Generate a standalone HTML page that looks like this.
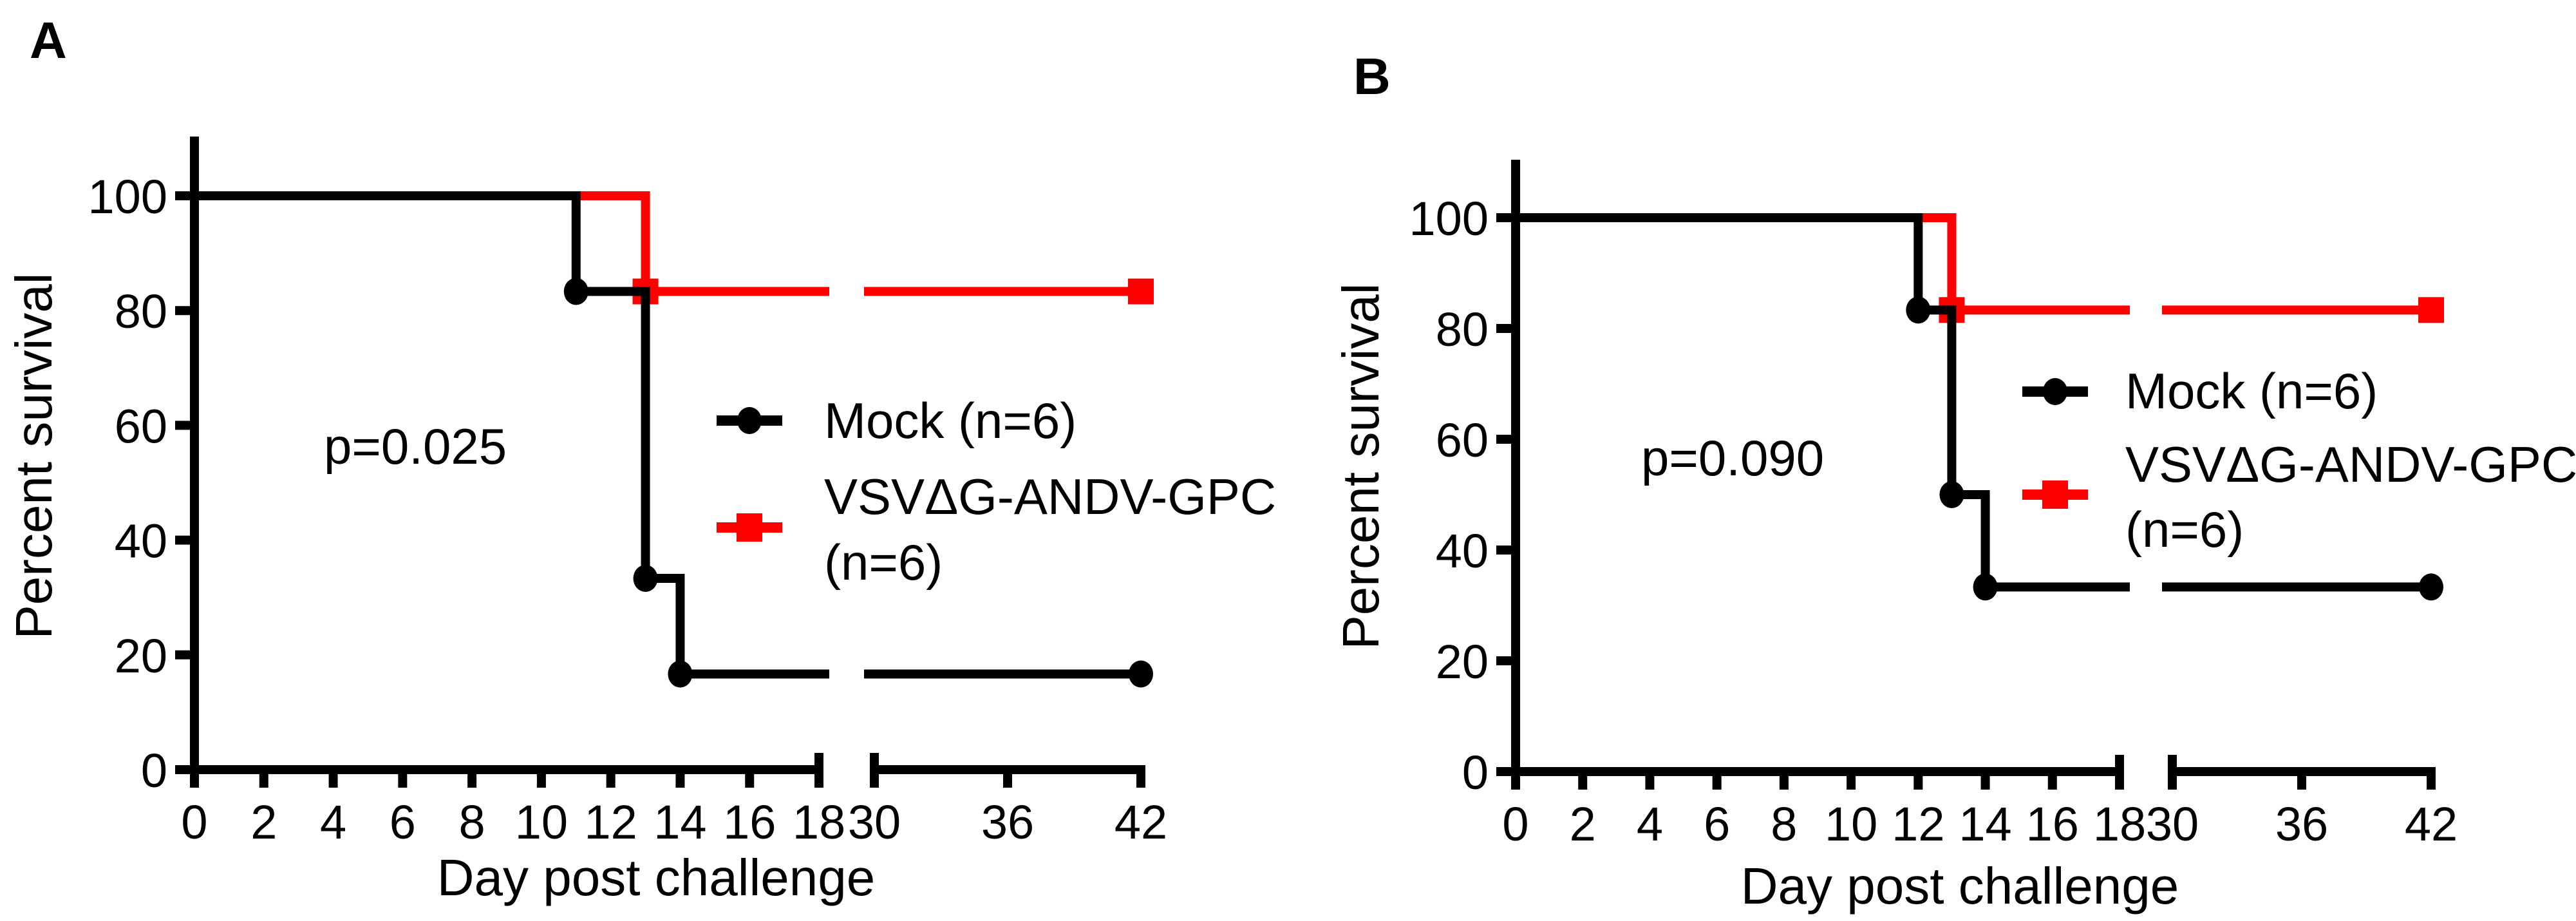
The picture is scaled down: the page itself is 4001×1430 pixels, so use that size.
<!DOCTYPE html>
<html><head><meta charset="utf-8"><style>
html,body{margin:0;padding:0;background:#fff}
svg{display:block}
text{font-family:"Liberation Sans",Arial,sans-serif;fill:#000}
</style></head><body>
<svg id="fig" width="4001" height="1430" viewBox="0 0 4001 1430" xmlns="http://www.w3.org/2000/svg"></svg>
<script>
// ---- data ----
const xTicksSeg1 = [0,2,4,6,8,10,12,14,16,18];
const xTicksSeg2 = [30,36,42];
const yTicks = [0,20,40,60,80,100];
const mockTimesA = [0,11,13,14,42];
const mockSurvA = [100,83.33,33.33,16.67,16.67];
const vaccTimesA = [0,13,42];
const vaccSurvA = [100,83.33,83.33];
const mockMarkersA = [11,13,14,42];
const vaccMarkersA = [13,42];
const mockTimesB = [0,12,13,14,42];
const mockSurvB = [100,83.33,50,33.33,33.33];
const vaccTimesB = [0,13,42];
const vaccSurvB = [100,83.33,83.33];
const mockMarkersB = [12,13,14,42];
const vaccMarkersB = [13,42];

const NS = "http://www.w3.org/2000/svg";
const svg = document.getElementById('fig');
function mk(tag, attrs, parent){ const e=document.createElementNS(NS,tag); for(const k in attrs) e.setAttribute(k,attrs[k]); (parent||svg).appendChild(e); return e; }

const panels = [
 {id:'a', letter:'A', lx:46, ly:90, x0:302, x18:1272, x30:1358, x42:1772, y0:1195, y100:304, ytop:212,
  mockT:mockTimesA, mockS:mockSurvA, vT:vaccTimesA, vS:vaccSurvA, mM:mockMarkersA, vM:vaccMarkersA,
  p:'p=0.025', px:503, py:720, legX:1113, legTextX:1280, legMockY:653, legVaccY:819, mockBase:680, vBase1:798, vBase2:900,
  ytx:52, yty:708, xtx:1019, xty:1390},
 {id:'b', letter:'B', lx:2102, ly:146, x0:2354, x18:3292, x30:3374, x42:3776, y0:1198, y100:338, ytop:248,
  mockT:mockTimesB, mockS:mockSurvB, vT:vaccTimesB, vS:vaccSurvB, mM:mockMarkersB, vM:vaccMarkersB,
  p:'p=0.090', px:2549, py:738, legX:3141, legTextX:3301, legMockY:608, legVaccY:768, mockBase:634, vBase1:748, vBase2:849,
  ytx:2113, yty:724, xtx:3044, xty:1403}
];

panels.forEach(P=>{
  const g = mk('g',{});
  
  
  const X = d => d<=18 ? P.x0 + d*(P.x18-P.x0)/18 : P.x30 + (d-30)*(P.x42-P.x30)/12;
  const Y = v => P.y0 - v*(P.y0-P.y100)/100;

  const lt = mk('text',{x:P.lx,y:P.ly,'font-size':80,'font-weight':'bold'},g); lt.textContent=P.letter;
   

  const defs = mk('defs',{},g);
  const c1 = mk('clipPath',{id:'c1'+P.id},defs); mk('rect',{x:0,y:0,width:X(18)+16,height:1430},c1);
  const c2 = mk('clipPath',{id:'c2'+P.id},defs); mk('rect',{x:X(30)-16,y:0,width:1000,height:1430},c2);

  const ax = mk('g',{stroke:'#000','stroke-width':14,fill:'none'},g);
   
  mk('line',{x1:P.x0,y1:P.ytop,x2:P.x0,y2:P.y0+7},ax);
  mk('line',{x1:P.x0-7,y1:P.y0,x2:X(18)+7,y2:P.y0},ax);
  mk('line',{x1:X(30)-7,y1:P.y0,x2:X(42)+7,y2:P.y0},ax);
  mk('line',{x1:X(18),y1:P.y0-26,x2:X(18),y2:P.y0+28},ax);
  mk('line',{x1:X(30),y1:P.y0-26,x2:X(30),y2:P.y0+28},ax);
  yTicks.forEach(v=>{
    mk('line',{x1:P.x0-30,y1:Y(v),x2:P.x0,y2:Y(v)},ax);
    const t=mk('text',{x:P.x0-42,y:Y(v)+27,'font-size':74,'text-anchor':'end',stroke:'none'},g); t.textContent=v;
     
  });
  xTicksSeg1.concat(xTicksSeg2).forEach(d=>{
    mk('line',{x1:X(d),y1:P.y0,x2:X(d),y2:P.y0+28},ax);
    const t=mk('text',{x:X(d),y:P.y0+107,'font-size':74,'text-anchor':'middle'},g); t.textContent=d;
     
  });

  const yt=mk('text',{x:0,y:0,'font-size':80,'text-anchor':'middle',transform:`translate(${P.ytx+28},${P.yty}) rotate(-90)`},g);
  yt.textContent='Percent survival';  
  const xt=mk('text',{x:P.xtx,y:P.xty,'font-size':80,'text-anchor':'middle'},g);
  xt.textContent='Day post challenge';  

  function stepPath(T,S){
    let d=`M${X(T[0])},${Y(S[0])}`;
    for(let i=1;i<T.length;i++){ d+=` H${X(T[i])} V${Y(S[i])}`; }
    return d;
  }
  function series(T,S,color,name){
    const sg=mk('g',{fill:'none',stroke:color,'stroke-width':14},g);
     
    const d=stepPath(T,S);
    mk('path',{d:d,'clip-path':`url(#c1${P.id})`},sg);
    mk('path',{d:d,'clip-path':`url(#c2${P.id})`},sg);
    return sg;
  }
  const survAt=(T,S,t)=>{let v=S[0];for(let i=0;i<T.length;i++) if(T[i]<=t) v=S[i];return v;};

  series(P.vT,P.vS,'#ff0000','vaccine-line-'+P.id);
  P.vM.forEach(t=>{
    const r=mk('rect',{x:X(t)-20,y:Y(survAt(P.vT,P.vS,t))-20,width:40,height:40,fill:'#ff0000'},g);
     
  });
  series(P.mockT,P.mockS,'#000','mock-line-'+P.id);
  P.mM.forEach(t=>{
    const c=mk('ellipse',{cx:X(t),cy:Y(survAt(P.mockT,P.mockS,t)),rx:19,ry:21,fill:'#000'},g);
     
  });

  const pt=mk('text',{x:P.px,y:P.py,'font-size':78},g); pt.textContent=P.p;
   

  const lg=mk('g',{},g);  
  const e1=mk('g',{},lg);  
  mk('line',{x1:P.legX,y1:P.legMockY,x2:P.legX+102,y2:P.legMockY,stroke:'#000','stroke-width':16},e1);
  mk('ellipse',{cx:P.legX+51,cy:P.legMockY,rx:19,ry:21,fill:'#000'},e1);
  const m=mk('text',{x:P.legTextX,y:P.mockBase,'font-size':78},e1); m.textContent='Mock (n=6)';
  const e2=mk('g',{},lg);  
  mk('line',{x1:P.legX,y1:P.legVaccY,x2:P.legX+102,y2:P.legVaccY,stroke:'#ff0000','stroke-width':16},e2);
  mk('rect',{x:P.legX+31,y:P.legVaccY-22,width:40,height:44,fill:'#ff0000'},e2);
  const v1=mk('text',{x:P.legTextX,y:P.vBase1,'font-size':78},e2); v1.textContent='VSVΔG-ANDV-GPC';
  const v2=mk('text',{x:P.legTextX,y:P.vBase2,'font-size':78},e2); v2.textContent='(n=6)';
});
</script>
</body></html>
